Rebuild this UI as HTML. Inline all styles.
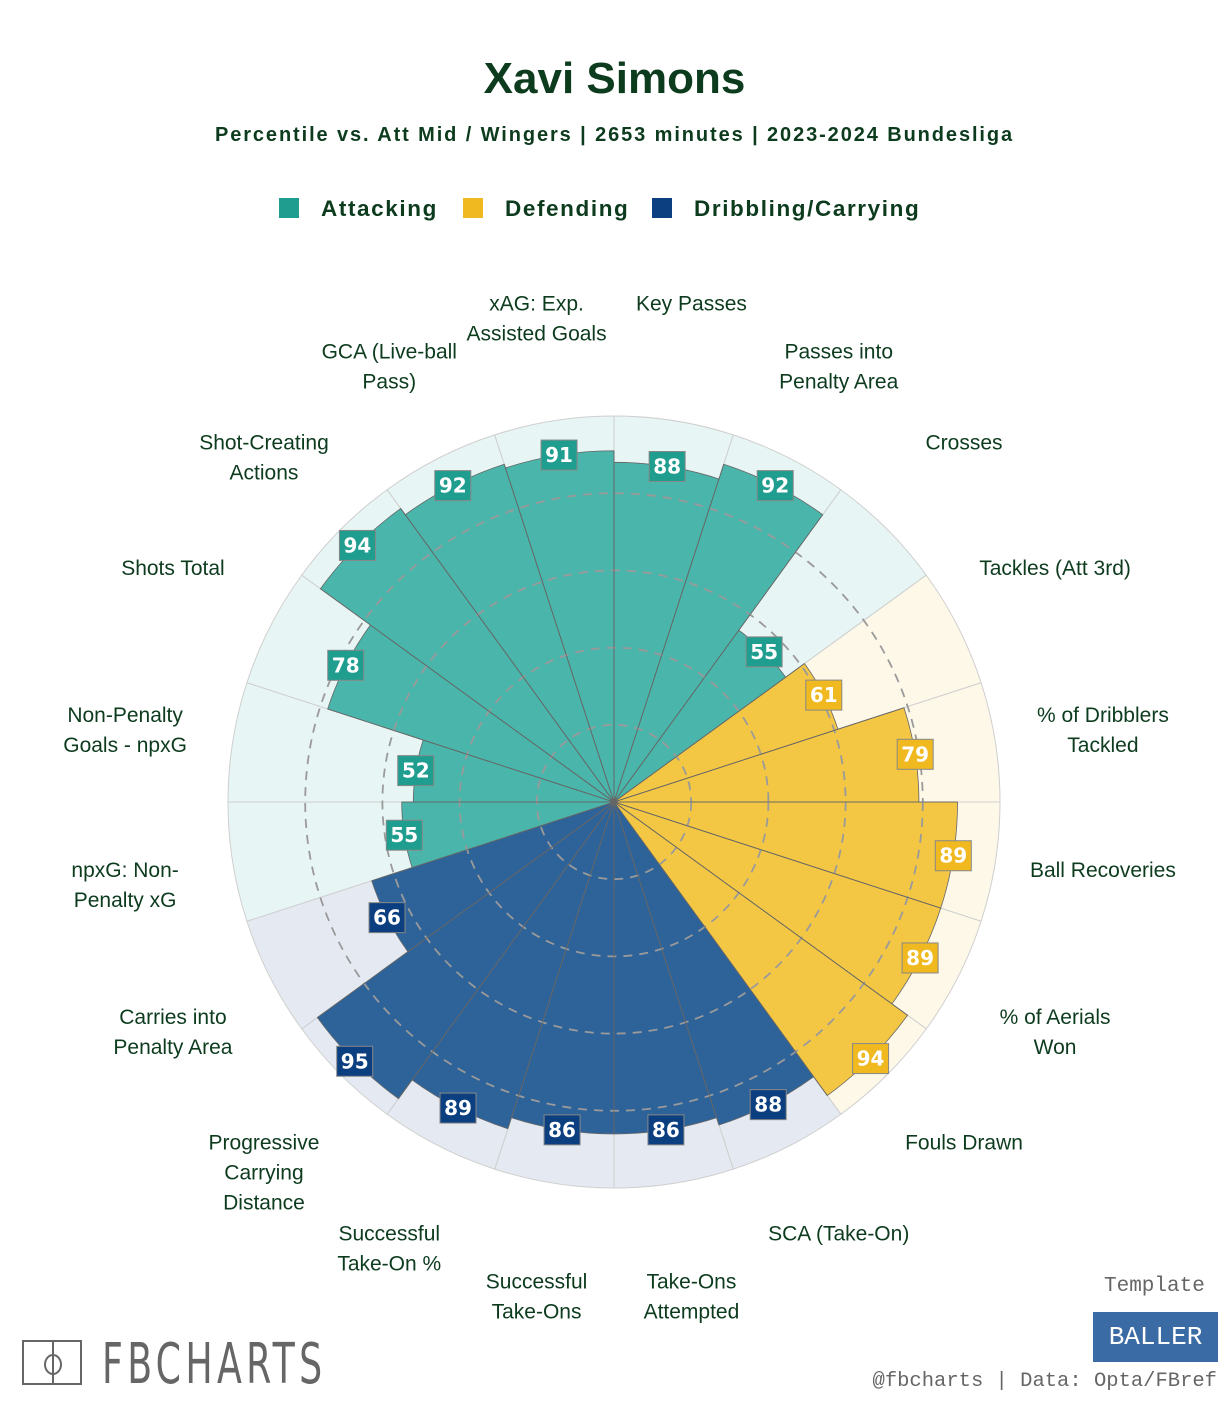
<!DOCTYPE html>
<html><head><meta charset="utf-8">
<style>
html,body{margin:0;padding:0;background:#fff;}
body{width:1229px;height:1408px;position:relative;overflow:hidden;font-family:"Liberation Sans",sans-serif;}
.t{position:absolute;left:0;width:1229px;text-align:center;color:#0d3b1e;}
</style></head><body>
<div class="t" style="top:54px;font-size:44px;font-weight:bold;">Xavi Simons</div>
<div class="t" style="top:124px;font-size:20px;font-weight:bold;letter-spacing:1.9px;">Percentile vs. Att Mid / Wingers | 2653 minutes | 2023-2024 Bundesliga</div>
<svg id="chart" width="1229" height="1408" style="position:absolute;left:0;top:0" xmlns="http://www.w3.org/2000/svg"></svg>
<script>
const categories=["Key Passes","Passes into\nPenalty Area","Crosses","Tackles (Att 3rd)","% of Dribblers\nTackled","Ball Recoveries","% of Aerials\nWon","Fouls Drawn","SCA (Take-On)","Take-Ons\nAttempted","Successful\nTake-Ons","Successful\nTake-On %","Progressive\nCarrying\nDistance","Carries into\nPenalty Area","npxG: Non-\nPenalty xG","Non-Penalty\nGoals - npxG","Shots Total","Shot-Creating\nActions","GCA (Live-ball\nPass)","xAG: Exp.\nAssisted Goals"];
const values=[88,92,55,61,79,89,89,94,88,86,86,89,95,66,55,52,78,94,92,91];
const groups=["A","A","A","D","D","D","D","D","C","C","C","C","C","C","A","A","A","A","A","A"];
const legendNames=["Attacking","Defending","Dribbling/Carrying"];
const ringValues=[20,40,60,80];
const CX=614,CY=802,R=386,LR=495;
const bar={A:"#4ab5ab",D:"#f3c744",C:"#2e6399"};
const bg={A:"#e7f5f4",D:"#fdf8e8",C:"#e5eaf2"};
const box={A:"#1f9e8f",D:"#f0b91f",C:"#0b3f80"};
const svg=document.getElementById('chart');
const NS="http://www.w3.org/2000/svg";
function mk(t,a,p){const e=document.createElementNS(NS,t);for(const k in a)e.setAttribute(k,a[k]);(p||svg).appendChild(e);return e;}
function rScale(v){return v/100*R;}
function pt(r,deg){const a=(deg-90)*Math.PI/180;return [CX+r*Math.cos(a),CY+r*Math.sin(a)];}
function wedge(r,a0,a1){const p0=pt(r,a0),p1=pt(r,a1);return `M${CX},${CY}L${p0[0]},${p0[1]}A${r},${r} 0 0 1 ${p1[0]},${p1[1]}Z`;}
const n=categories.length,step=360/n;
for(let i=0;i<n;i++){
  const e=mk('path',{d:wedge(R,i*step,(i+1)*step),fill:bg[groups[i]],stroke:"#cfcfcf","stroke-width":1});
  
  
}
for(let i=0;i<n;i++){
  const e=mk('path',{d:wedge(rScale(values[i]),i*step,(i+1)*step),fill:bar[groups[i]],stroke:"#666","stroke-width":0.8});
  
  
}
ringValues.forEach(v=>{
  const c=mk('circle',{cx:CX,cy:CY,r:rScale(v),fill:"none",stroke:"#9a9a9a","stroke-width":1.8,"stroke-dasharray":"9 7"});
  
  
});
for(let i=0;i<n;i++){
  const r=Math.max(rScale(values[i]),rScale(values[(i+n-1)%n]));
  const p=pt(r,i*step);
  const l=mk('line',{x1:CX,y1:CY,x2:p[0],y2:p[1],stroke:"#666","stroke-width":0.8});
  
  
}
for(let i=0;i<n;i++){
  const mid=(i+0.5)*step;
  const p=pt(rScale(values[i]),mid);
  const g=mk('g',{});
  
  
  mk('rect',{x:p[0]-18,y:p[1]-15,width:36,height:30,fill:box[groups[i]],stroke:"#888","stroke-width":1},g);
  const t=mk('text',{x:p[0],y:p[1]+7,"text-anchor":"middle","font-size":20,"font-weight":"bold",fill:"#fff","font-family":"DejaVu Sans, sans-serif"},g);
  t.textContent=values[i];
  const lp=pt(LR,mid);
  const lines=categories[i].split("\n");
  const tt=mk('text',{x:lp[0],"text-anchor":"middle","font-size":21,fill:"#0d3b1e"});
  
  
  lines.forEach((s,k)=>{const ts=mk('tspan',{x:lp[0],y:lp[1]-9.5+7+k*30},tt);ts.textContent=s;});
}
const lx=[289,473,662],lcols=[box.A,box.D,box.C];
legendNames.forEach((nm,k)=>{
  const g=mk('g',{});
  
  
  mk('rect',{x:lx[k]-10,y:198,width:20,height:20,fill:lcols[k]},g);
  const t=mk('text',{x:lx[k]+32,y:216,"font-size":22.5,"font-weight":"bold",fill:"#0d3b1e","letter-spacing":1.6},g);
  t.textContent=nm;
});
</script>
<div style="position:absolute;left:22px;top:1340px;width:320px;height:50px;">
  <div style="position:absolute;left:0;top:0;width:60px;height:45px;border:2px solid #666;box-sizing:border-box;">
    <div style="position:absolute;left:28px;top:0;width:2px;height:41px;background:#666"></div>
    <div style="position:absolute;left:20px;top:12px;width:14px;height:17px;border:2px solid #666;border-radius:50%;"></div>
  </div>
  <div style="position:absolute;left:80px;top:-8px;font-size:56px;color:#666;font-family:'DejaVu Sans Condensed','Liberation Sans Narrow',sans-serif;letter-spacing:6px;transform:scaleX(0.72);transform-origin:left;">FBCHARTS</div>
</div>
<div style="position:absolute;left:1104px;top:1275px;font-size:21px;color:#666;font-family:'Liberation Mono',monospace;">Template</div>
<div style="position:absolute;left:1093px;top:1312px;width:125px;height:50px;background:#3b6ba4;color:#fff;font-size:26px;line-height:50px;text-align:center;font-family:'Liberation Mono',monospace;">BALLER</div>
<div style="position:absolute;right:12px;top:1370px;font-size:20.5px;color:#666;font-family:'Liberation Mono',monospace;">@fbcharts | Data: Opta/FBref</div>
</body></html>
